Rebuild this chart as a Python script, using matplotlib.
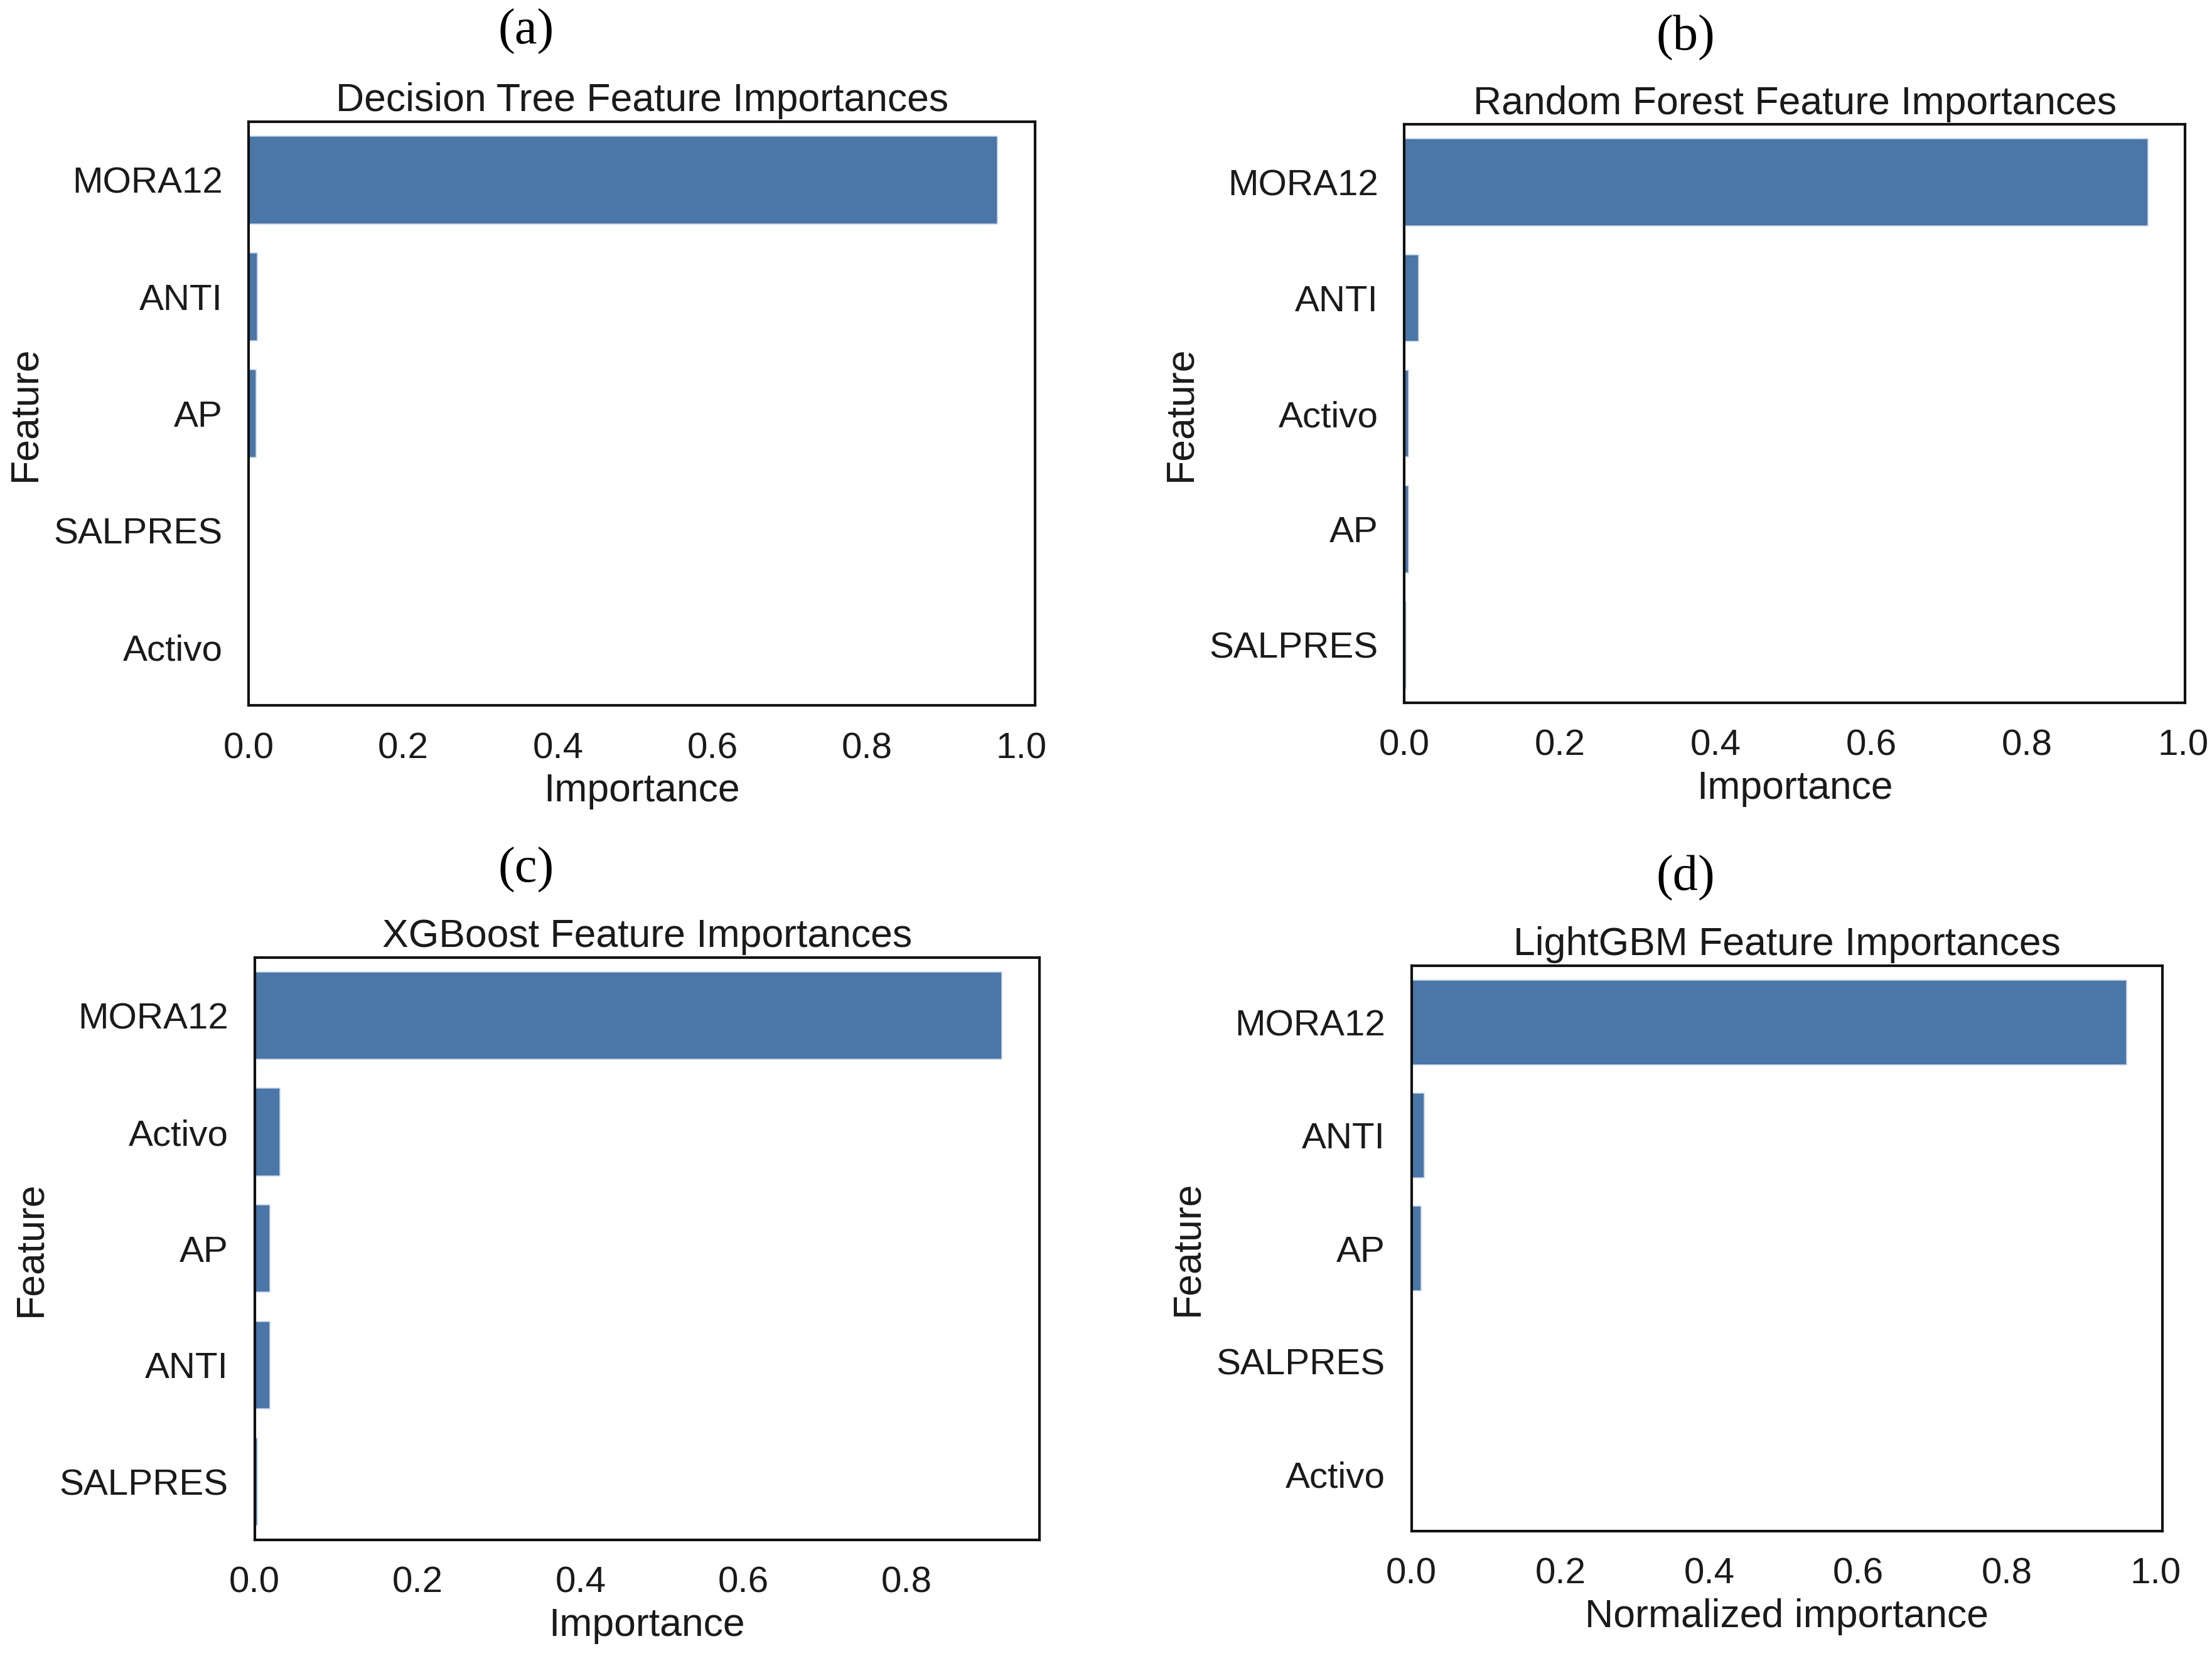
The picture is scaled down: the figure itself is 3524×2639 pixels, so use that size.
import numpy as np
import matplotlib
matplotlib.use("Agg")
import matplotlib.pyplot as plt
from matplotlib.ticker import MultipleLocator

# ─────────────────────────────────────────────
# DATA
# ─────────────────────────────────────────────

dt_features = ["MORA12", "ANTI", "AP", "SALPRES", "Activo"]
dt_values = [0.969, 0.011, 0.009, 0.0, 0.0]

rf_features = ["MORA12", "ANTI", "Activo", "AP", "SALPRES"]
rf_values = [0.955, 0.018, 0.005, 0.005, 0.002]

xgb_features = ["MORA12", "Activo", "AP", "ANTI", "SALPRES"]
xgb_values = [0.917, 0.031, 0.019, 0.019, 0.003]

lgbm_features = ["MORA12", "ANTI", "AP", "SALPRES", "Activo"]
lgbm_values = [0.961, 0.017, 0.013, 0.0, 0.0]

titles = [
    "Decision Tree Feature Importances",
    "Random Forest Feature Importances",
    "XGBoost Feature Importances",
    "LightGBM Feature Importances",
]
xlabels = ["Importance", "Importance", "Importance", "Normalized importance"]
panel_tags = ["(a)", "(b)", "(c)", "(d)"]

# ─────────────────────────────────────────────
# STYLE / LAYOUT
# ─────────────────────────────────────────────

BAR_COLOR = "#4a76a8"
TEXT_COLOR = "#1a1a1a"
FONT = ["Liberation Sans", "DejaVu Sans"]
TICK_FS = 21
LABEL_FS = 22.5

plt.rcParams["font.family"] = FONT
plt.rcParams["text.color"] = TEXT_COLOR
plt.rcParams["axes.labelcolor"] = TEXT_COLOR
plt.rcParams["xtick.color"] = TEXT_COLOR
plt.rcParams["ytick.color"] = TEXT_COLOR

# axes rectangles in figure fractions [left, bottom, width, height]
AX_RECTS = [
    [0.1125, 0.5739, 0.3554, 0.3527],
    [0.6349, 0.5756, 0.3529, 0.3493],
    [0.1151, 0.0701, 0.3548, 0.3518],
    [0.6381, 0.0754, 0.3395, 0.3414],
]
# panel tag centres in figure fractions
TAG_POS = [(0.2379, 0.981), (0.7621, 0.977), (0.2379, 0.4748), (0.7621, 0.4697)]

fig = plt.figure(figsize=(17.62, 13.195), dpi=200)
fig.patch.set_facecolor("white")

panels = [
    (dt_features, dt_values),
    (rf_features, rf_values),
    (xgb_features, xgb_values),
    (lgbm_features, lgbm_values),
]

for i, (feats, vals) in enumerate(panels):
    ax = fig.add_axes(AX_RECTS[i])
    y = np.arange(len(feats))
    ax.barh(y, vals, height=0.75, color=BAR_COLOR, edgecolor="#c9d6e8", linewidth=0.6)
    ax.set_yticks(y)
    ax.set_yticklabels(feats)
    ax.set_ylim(len(feats) - 0.5, -0.5)
    ax.set_xlim(0, max(vals) * 1.05)
    ax.xaxis.set_major_locator(MultipleLocator(0.2))

    ax.tick_params(axis="both", length=0, labelsize=TICK_FS)
    ax.tick_params(axis="y", pad=15)
    ax.tick_params(axis="x", pad=15)

    for sp in ax.spines.values():
        sp.set_color("#111111")
        sp.set_linewidth(1.5)

    ax.set_title(titles[i], fontsize=LABEL_FS, pad=6)
    ax.set_xlabel(xlabels[i], fontsize=LABEL_FS, labelpad=4)
    ax.set_ylabel("Feature", fontsize=LABEL_FS, labelpad=6)

    fig.text(TAG_POS[i][0], TAG_POS[i][1], panel_tags[i],
             ha="center", va="center", fontsize=29, family="Liberation Serif",
             color="black")

fig.savefig("out.png", dpi=200, facecolor="white")
